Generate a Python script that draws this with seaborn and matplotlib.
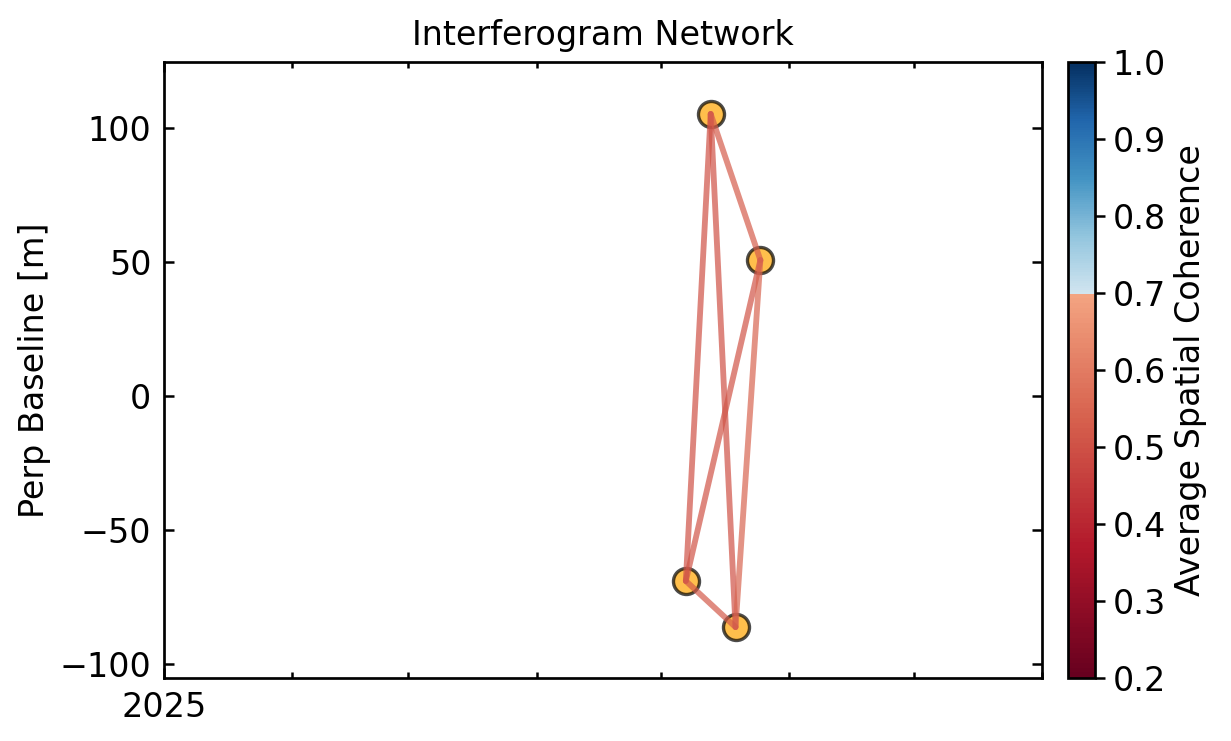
import numpy as np
import pandas as pd
import matplotlib
matplotlib.use("Agg")
import matplotlib.pyplot as plt
import matplotlib.dates as mdates
from matplotlib.colors import ListedColormap, Normalize
import matplotlib.cm as cm
import seaborn as sns

# ---- data ----
dates = ["2025-05-07", "2025-05-13", "2025-05-19", "2025-05-25"]
pbase = [-69.0, 105.2, -86.2, 50.7]
edge_ref = ["2025-05-07", "2025-05-13", "2025-05-13", "2025-05-07", "2025-05-19", "2025-05-07"]
edge_sec = ["2025-05-13", "2025-05-19", "2025-05-25", "2025-05-25", "2025-05-25", "2025-05-19"]
edge_coh = [0.50, 0.50, 0.53, 0.51, 0.55, 0.52]
cbar_ticks = [0.2, 0.3, 0.4, 0.5, 0.6, 0.7, 0.8, 0.9, 1.0]
yticks = [-100, -50, 0, 50, 100]

sns.set_theme(style="white")
plt.rcParams["font.family"] = ["DejaVu Sans"]
plt.rcParams["font.size"] = 16
plt.rcParams["text.color"] = "black"
plt.rcParams["axes.labelcolor"] = "black"

# truncated RdBu colormap, split at 0.7
vmin, vsplit, vmax = 0.2, 0.7, 1.0
base = matplotlib.colormaps["RdBu"]
n1 = int(1000 * (vsplit - vmin) / (vmax - vmin))
n2 = 1000 - n1
cols = np.vstack([base(np.linspace(0.0, 0.3, n1)), base(np.linspace(0.6, 1.0, n2))])
cmap = ListedColormap(cols, name="RdBu_truncate")
norm = Normalize(vmin=vmin, vmax=vmax)

df = pd.DataFrame({"date": pd.to_datetime(dates), "pbase": pbase})
bmap = dict(zip(df["date"], df["pbase"]))

W, H, DPI = 1231, 741, 150
fig = plt.figure(figsize=(W / DPI, H / DPI), dpi=DPI)
ax = fig.add_axes([164 / W, 1 - 678 / H, (1042 - 164) / W, (678 - 62) / H])
cax = fig.add_axes([1068 / W, 1 - 678 / H, 27 / W, (678 - 62) / H])

sns.scatterplot(data=df, x="date", y="pbase", ax=ax, s=12.5 ** 2, color="orange",
                edgecolor="black", linewidth=1.6, alpha=0.7, zorder=2, legend=False)

for r, s, c in zip(edge_ref, edge_sec, edge_coh):
    d1, d2 = pd.Timestamp(r), pd.Timestamp(s)
    ax.plot([d1, d2], [bmap[d1], bmap[d2]], color=cmap(norm(c)), lw=2.8, alpha=0.7, zorder=3)

ax.set_xlim(pd.Timestamp("2025-01-01"), pd.Timestamp("2025-08-01"))
ax.set_ylim(-105.2, 124.6)
ax.set_yticks(yticks)
ax.xaxis.set_major_locator(mdates.YearLocator())
ax.xaxis.set_major_formatter(mdates.DateFormatter("%Y"))
ax.xaxis.set_minor_locator(mdates.MonthLocator())
ax.tick_params(which="both", direction="in", top=True, right=True, bottom=True, left=True,
               colors="black", labelsize=16, width=1.2)
ax.tick_params(which="major", length=5, pad=6)
ax.tick_params(which="minor", length=3)
for sp in ax.spines.values():
    sp.set_color("black")
    sp.set_linewidth(1.3)
ax.set_xlabel("")
ax.set_ylabel("Perp Baseline [m]", fontsize=16, color="black")
ax.set_title("Interferogram Network", fontsize=16, pad=8, color="black")

cb = fig.colorbar(cm.ScalarMappable(norm=norm, cmap=cmap), cax=cax, ticks=cbar_ticks)
cb.outline.set_linewidth(1.3)
cb.outline.set_edgecolor("black")
cax.tick_params(direction="out", length=5, width=1.2, labelsize=16, colors="black")
cb.set_label("Average Spatial Coherence", fontsize=16, color="black")

fig.savefig("out.png", dpi=DPI)
